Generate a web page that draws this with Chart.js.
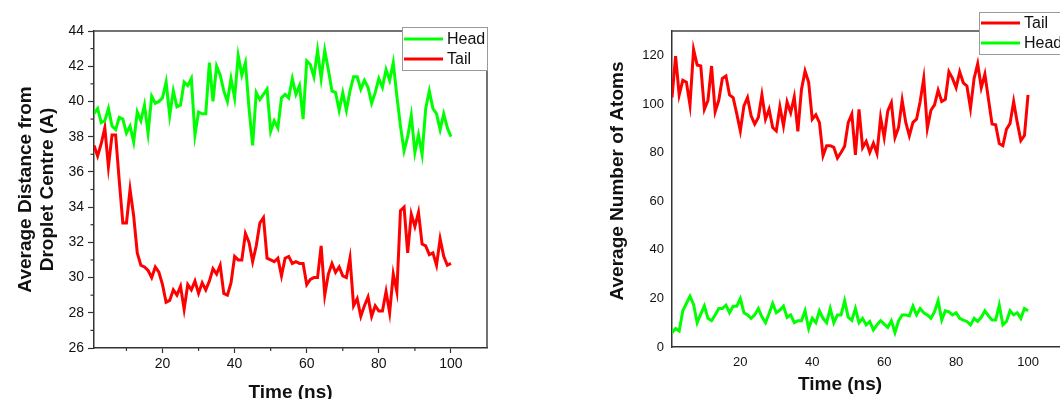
<!DOCTYPE html>
<html>
<head>
<meta charset="utf-8">
<script src="https://cdn.jsdelivr.net/npm/chart.js@4.4.1/dist/chart.umd.min.js"></script>
<style>
  body { margin: 0; background: #fff; overflow: hidden; }
  #wrap { position: relative; width: 1060px; height: 399px; overflow: hidden; }
  #distChart { position: absolute; left: 0; top: 0; }
  #atomChart { position: absolute; left: 590px; top: 0; }
</style>
</head>
<body>
<div id="wrap">
  <canvas id="distChart" width="500" height="399"></canvas>
  <canvas id="atomChart" width="480" height="399"></canvas>
</div>
<script>
// sample times (ns)
const time = [
  1, 2, 3, 4, 5, 6, 7, 8, 9, 10,
  11, 12, 13, 14, 15, 16, 17, 18, 19, 20,
  21, 22, 23, 24, 25, 26, 27, 28, 29, 30,
  31, 32, 33, 34, 35, 36, 37, 38, 39, 40,
  41, 42, 43, 44, 45, 46, 47, 48, 49, 50,
  51, 52, 53, 54, 55, 56, 57, 58, 59, 60,
  61, 62, 63, 64, 65, 66, 67, 68, 69, 70,
  71, 72, 73, 74, 75, 76, 77, 78, 79, 80,
  81, 82, 83, 84, 85, 86, 87, 88, 89, 90,
  91, 92, 93, 94, 95, 96, 97, 98, 99, 100
];

// average distance from droplet centre (A)
const distHead = [
  39.3, 39.6, 38.8, 38.9, 39.6, 38.6, 38.4, 39.1, 39.0, 38.2,
  38.6, 37.7, 39.4, 38.9, 39.8, 38.2, 40.3, 39.9, 40.0, 40.2,
  41.1, 39.2, 40.6, 39.7, 39.8, 41.1, 40.9, 41.3, 38.1, 39.4,
  39.3, 39.3, 42.2, 40.0, 42.0, 41.5, 40.6, 40.0, 41.3, 40.2,
  42.6, 41.5, 42.2, 39.6, 37.5, 40.5, 40.1, 40.4, 40.7, 38.3,
  38.9, 38.5, 40.2, 40.4, 40.2, 41.3, 40.4, 40.9, 39.0, 42.3,
  42.1, 41.4, 42.9, 41.3, 42.9, 41.8, 40.6, 40.5, 39.5, 40.5,
  39.5, 40.6, 41.4, 41.4, 40.7, 41.2, 40.8, 39.9, 40.5, 41.3,
  40.8, 41.8, 41.2, 42.2, 40.3, 38.6, 37.2, 38.0, 39.2, 37.1,
  38.1, 37.0, 39.6, 40.6, 39.6, 39.3, 38.4, 39.3, 38.5, 38.0
];
const distTail = [
  37.5, 36.9, 37.6, 38.5, 36.3, 38.1, 38.1, 35.5, 33.1, 33.1,
  35.0, 33.5, 31.4, 30.7, 30.6, 30.4, 30.0, 30.6, 30.3, 29.6,
  28.6, 28.7, 29.3, 29.0, 29.5, 28.2, 29.6, 29.3, 29.8, 29.1,
  29.7, 29.3, 29.8, 30.5, 30.2, 30.7, 29.1, 29.0, 29.7, 31.2,
  31.0, 31.0, 32.5, 32.0, 30.9, 31.8, 33.1, 33.4, 31.1, 31.0,
  30.9, 31.1, 30.1, 31.1, 31.2, 30.8, 30.9, 30.8, 30.8, 29.6,
  29.9, 30.0, 30.0, 31.8, 29.0, 30.2, 30.8, 30.3, 30.6, 30.1,
  30.0, 31.1, 28.4, 28.8, 27.8, 28.4, 28.9, 27.8, 28.4, 28.1,
  28.1, 29.2, 28.0, 30.2, 29.2, 33.8, 34.0, 31.4, 33.6, 32.9,
  33.7, 31.9, 31.8, 31.3, 31.4, 30.7, 32.2, 31.2, 30.7, 30.8
];

// average number of atoms
const atomsTail = [
  102.6, 119.7, 103.7, 109.7, 108.9, 99.6, 122.4, 116.0, 115.6, 97.8,
  101.5, 115.6, 96.8, 101.5, 110.5, 111.5, 103.7, 102.6, 96.0, 88.9,
  99.2, 102.6, 95.1, 91.7, 94.4, 103.7, 93.7, 97.8, 90.3, 88.9,
  98.8, 91.0, 100.8, 96.4, 102.9, 88.7, 106.0, 113.5, 108.9, 93.7,
  95.5, 92.3, 78.7, 82.8, 82.8, 82.1, 77.7, 80.0, 82.6, 92.3,
  95.8, 79.0, 97.8, 82.0, 84.6, 80.1, 83.8, 79.6, 94.4, 86.2,
  97.1, 100.5, 86.2, 90.3, 101.5, 92.4, 86.9, 92.4, 93.7, 101.0,
  110.5, 90.0, 97.4, 99.6, 105.6, 101.0, 101.9, 113.2, 110.5, 106.7,
  113.2, 108.7, 107.4, 98.2, 110.5, 116.5, 106.7, 112.2, 101.9, 91.7,
  91.4, 83.7, 82.8, 89.6, 92.0, 101.0, 92.4, 84.9, 87.0, 103.7
];
const atomsHead = [
  5.9, 7.6, 6.6, 14.9, 17.9, 20.9, 17.5, 10.0, 13.5, 16.9,
  11.8, 10.8, 13.2, 15.8, 15.8, 17.2, 14.1, 16.8, 16.8, 19.9,
  14.1, 13.2, 11.8, 13.2, 15.8, 12.4, 10.0, 13.8, 17.9, 14.1,
  15.2, 16.8, 12.2, 13.2, 10.0, 10.8, 10.8, 14.9, 7.6, 11.8,
  10.0, 14.9, 11.8, 10.0, 15.8, 10.0, 13.2, 13.2, 19.0, 12.3,
  11.0, 15.8, 10.0, 11.8, 9.1, 10.5, 7.0, 9.1, 10.8, 9.4,
  8.1, 10.8, 5.9, 10.8, 13.2, 13.2, 12.8, 16.8, 13.2, 15.8,
  14.1, 13.2, 11.8, 14.5, 19.0, 11.1, 14.9, 14.5, 13.2, 14.1,
  11.8, 11.1, 10.5, 9.1, 11.8, 10.5, 12.2, 14.9, 12.8, 11.1,
  11.1, 17.2, 9.1, 10.5, 14.9, 13.2, 14.1, 11.8, 15.8, 14.9
];

// axis ticks
const timeTicks = [20, 40, 60, 80, 100];
const timeMinor = [10, 30, 50, 70, 90];
const distTicks = [26, 28, 30, 32, 34, 36, 38, 40, 42, 44];
const distMinor = [27, 29, 31, 33, 35, 37, 39, 41, 43];
const atomTicks = [0, 20, 40, 60, 80, 100, 120];

const RED = '#ff0000';
const GREEN = '#00ff00';
const AXIS = '#333';

Chart.defaults.font.family = '"Liberation Sans", Arial, sans-serif';
Chart.defaults.color = '#111';

// top/right border of the plot box plus short minor ticks
const frame = {
  id: 'frame',
  afterDatasetsDraw(chart, args, opts) {
    const { ctx, chartArea: a, scales } = chart;
    ctx.save();
    ctx.strokeStyle = '#444';
    ctx.lineWidth = 1.5;
    ctx.beginPath();
    ctx.moveTo(a.left, a.top);
    ctx.lineTo(a.right, a.top);
    ctx.lineTo(a.right, a.bottom);
    ctx.stroke();
    ctx.strokeStyle = AXIS;
    ctx.lineWidth = 1.2;
    (opts.minorX || []).forEach(v => {
      const x = scales.x.getPixelForValue(v);
      ctx.beginPath(); ctx.moveTo(x, a.bottom); ctx.lineTo(x, a.bottom + 3); ctx.stroke();
    });
    (opts.minorY || []).forEach(v => {
      const y = scales.y.getPixelForValue(v);
      ctx.beginPath(); ctx.moveTo(a.left, y); ctx.lineTo(a.left - 3.5, y); ctx.stroke();
    });
    ctx.restore();
  }
};

// boxed legend inside the plot
const boxLegend = {
  id: 'boxLegend',
  afterDraw(chart, args, o) {
    const ctx = chart.ctx;
    ctx.save();
    ctx.fillStyle = '#fff';
    ctx.fillRect(o.x, o.y, o.w, o.h);
    ctx.strokeStyle = '#999';
    ctx.lineWidth = 1;
    ctx.strokeRect(o.x + 0.5, o.y + 0.5, o.w, o.h);
    ctx.font = '16px "Liberation Sans", Arial, sans-serif';
    ctx.textBaseline = 'middle';
    chart.data.datasets.forEach((ds, i) => {
      const y = o.y + o.first + i * o.row;
      ctx.strokeStyle = ds.borderColor;
      ctx.lineWidth = 3;
      ctx.beginPath();
      ctx.moveTo(o.x + 2, y);
      ctx.lineTo(o.x + 2 + o.sample, y);
      ctx.stroke();
      ctx.fillStyle = '#111';
      ctx.fillText(ds.label, o.x + o.sample + 6, y + 1);
    });
    ctx.restore();
  }
};

// free-standing axis titles
const axisTitles = {
  id: 'axisTitles',
  afterDraw(chart, args, opts) {
    const ctx = chart.ctx;
    (opts.items || []).forEach(t => {
      ctx.save();
      ctx.translate(t.x, t.y);
      ctx.rotate(t.rot || 0);
      ctx.font = 'bold 19px "Liberation Sans", Arial, sans-serif';
      ctx.fillStyle = '#111';
      ctx.textAlign = 'center';
      ctx.textBaseline = 'middle';
      ctx.fillText(t.text, 0, 0);
      ctx.restore();
    });
  }
};

function setTicks(list) {
  return s => { s.ticks = list.map(v => ({ value: v })); };
}

new Chart(document.getElementById('distChart'), {
  type: 'line',
  data: {
    labels: time,
    datasets: [
      { label: 'Head', data: distHead, borderColor: GREEN },
      { label: 'Tail', data: distTail, borderColor: RED }
    ]
  },
  options: {
    responsive: false,
    animation: false,
    layout: { padding: { top: 31, right: 13, left: 0, bottom: 0 } },
    elements: { point: { radius: 0 }, line: { borderWidth: 3, tension: 0 } },
    plugins: {
      legend: { display: false },
      tooltip: { enabled: false },
      frame: { minorX: timeMinor, minorY: distMinor },
      boxLegend: { x: 402, y: 27, w: 85, h: 43, first: 12, row: 20, sample: 39 }
    },
    scales: {
      x: {
        type: 'linear', min: 1, max: 110,
        afterBuildTicks: setTicks(timeTicks),
        afterFit: s => { s.height = 51; },
        border: { color: AXIS, width: 1.5 },
        grid: { drawOnChartArea: false, tickLength: 5, color: AXIS, tickWidth: 1.2 },
        ticks: { font: { size: 14 }, padding: 3, maxRotation: 0 },
        title: {
          display: true, text: 'Time (ns)',
          font: { size: 19, weight: 'bold', lineHeight: 1 },
          padding: { top: 0, bottom: -3 }
        }
      },
      y: {
        min: 26, max: 44,
        afterBuildTicks: setTicks(distTicks),
        afterFit: s => { s.width = 94; },
        border: { color: AXIS, width: 1.5 },
        grid: { drawOnChartArea: false, tickLength: 6, color: AXIS, tickWidth: 1.2 },
        ticks: { font: { size: 14 }, padding: 4 },
        title: {
          display: true, text: ['Average Distance from', 'Droplet Centre (A)'],
          font: { size: 19, weight: 'bold', lineHeight: 1.16 },
          padding: { top: 15, bottom: 0 }
        }
      }
    }
  },
  plugins: [frame, boxLegend]
});

new Chart(document.getElementById('atomChart'), {
  type: 'line',
  data: {
    labels: time,
    datasets: [
      { label: 'Tail', data: atomsTail, borderColor: RED },
      { label: 'Head', data: atomsHead, borderColor: GREEN }
    ]
  },
  options: {
    responsive: false,
    animation: false,
    layout: { padding: { top: 31, right: 6, left: 0, bottom: 0 } },
    elements: { point: { radius: 0 }, line: { borderWidth: 3, tension: 0 } },
    plugins: {
      legend: { display: false },
      tooltip: { enabled: false },
      frame: {},
      boxLegend: { x: 389, y: 12, w: 100, h: 42, first: 11, row: 20, sample: 39 },
      axisTitles: {
        items: [
          { text: 'Time (ns)', x: 250, y: 385 },
          { text: 'Average Number of Atoms', x: 28, y: 181, rot: -Math.PI / 2 }
        ]
      }
    },
    scales: {
      x: {
        type: 'linear', min: 1, max: 110,
        afterBuildTicks: setTicks(timeTicks),
        afterFit: s => { s.height = 52; },
        border: { color: AXIS, width: 1.5 },
        grid: { display: false, drawTicks: false },
        ticks: { font: { size: 13 }, padding: 8, maxRotation: 0 }
      },
      y: {
        min: 0, max: 130,
        afterBuildTicks: setTicks(atomTicks),
        afterFit: s => { s.width = 82; },
        border: { color: AXIS, width: 1.5 },
        grid: { display: false, drawTicks: false },
        ticks: { font: { size: 13 }, padding: 8 }
      }
    }
  },
  plugins: [frame, boxLegend, axisTitles]
});
</script>
</body>
</html>
